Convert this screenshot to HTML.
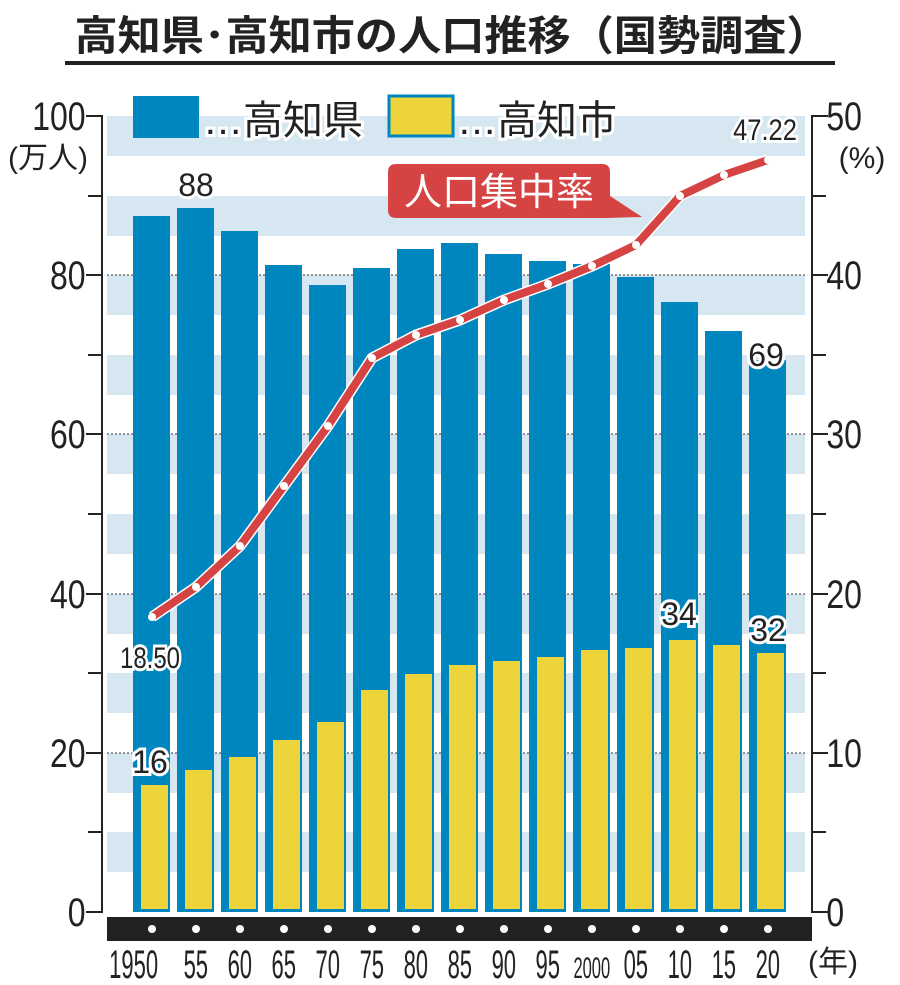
<!DOCTYPE html>
<html><head><meta charset="utf-8"><style>
html,body{margin:0;padding:0;background:#fff}
svg{display:block}
text{font-family:"Liberation Sans","Noto Sans CJK JP",sans-serif}
</style></head><body>
<svg width="900" height="985" viewBox="0 0 900 985" xmlns="http://www.w3.org/2000/svg">
<rect width="900" height="985" fill="#fff"/>
<text x="452" y="50" text-anchor="middle" font-size="41" font-weight="bold" fill="#222" textLength="755" lengthAdjust="spacingAndGlyphs">高知県･高知市の人口推移（国勢調査）</text>
<rect x="65" y="61" width="770" height="4" fill="#222"/>
<g fill="#d6e7f2">
<rect x="107" y="116" width="698" height="40"/>
<rect x="107" y="196" width="698" height="40"/>
<rect x="107" y="275" width="698" height="40"/>
<rect x="107" y="355" width="698" height="40"/>
<rect x="107" y="434" width="698" height="40"/>
<rect x="107" y="514" width="698" height="40"/>
<rect x="107" y="594" width="698" height="40"/>
<rect x="107" y="673" width="698" height="40"/>
<rect x="107" y="753" width="698" height="40"/>
<rect x="107" y="832" width="698" height="40"/>
</g>
<g stroke="#333" stroke-width="1" stroke-dasharray="2,2">
<line x1="107" y1="275" x2="805" y2="275"/>
<line x1="107" y1="434" x2="805" y2="434"/>
<line x1="107" y1="594" x2="805" y2="594"/>
<line x1="107" y1="753" x2="805" y2="753"/>
</g>
<g stroke="#222" stroke-width="2" fill="none">
<polyline points="86,116 102,116 102,912 86,912"/>
<line x1="88" y1="196" x2="102" y2="196"/><line x1="86" y1="275" x2="102" y2="275"/>
<line x1="88" y1="355" x2="102" y2="355"/><line x1="86" y1="434" x2="102" y2="434"/>
<line x1="88" y1="514" x2="102" y2="514"/><line x1="86" y1="594" x2="102" y2="594"/>
<line x1="88" y1="673" x2="102" y2="673"/><line x1="86" y1="753" x2="102" y2="753"/>
<line x1="88" y1="832" x2="102" y2="832"/>
<polyline points="828,116 812,116 812,912 828,912"/>
<line x1="812" y1="196" x2="826" y2="196"/><line x1="812" y1="275" x2="828" y2="275"/>
<line x1="812" y1="355" x2="826" y2="355"/><line x1="812" y1="434" x2="828" y2="434"/>
<line x1="812" y1="514" x2="826" y2="514"/><line x1="812" y1="594" x2="828" y2="594"/>
<line x1="812" y1="673" x2="826" y2="673"/><line x1="812" y1="753" x2="828" y2="753"/>
<line x1="812" y1="832" x2="826" y2="832"/>
</g>
<g font-size="40" fill="#222" text-anchor="end" transform="scale(0.8,1)">
<text x="107" y="130">100</text><text x="107" y="289">80</text><text x="107" y="448">60</text>
<text x="107" y="608">40</text><text x="107" y="767">20</text><text x="107" y="926">0</text>
</g>
<text x="48" y="168" font-size="30" fill="#222" text-anchor="middle">(万人)</text>
<g font-size="40" fill="#222" transform="scale(0.8,1)">
<text x="1033" y="130">50</text><text x="1033" y="289">40</text><text x="1033" y="448">30</text>
<text x="1033" y="608">20</text><text x="1033" y="767">10</text><text x="1033" y="926">0</text>
</g>
<text x="862" y="168" font-size="30" fill="#222" text-anchor="middle">(%)</text>
<g fill="#0086be">
<rect x="133" y="216" width="37" height="696"/>
<rect x="177" y="208" width="37" height="704"/>
<rect x="221" y="231" width="37" height="681"/>
<rect x="265" y="265" width="37" height="647"/>
<rect x="309" y="285" width="37" height="627"/>
<rect x="353" y="268" width="37" height="644"/>
<rect x="397" y="249" width="37" height="663"/>
<rect x="441" y="243" width="37" height="669"/>
<rect x="485" y="254" width="37" height="658"/>
<rect x="529" y="261" width="37" height="651"/>
<rect x="573" y="264" width="37" height="648"/>
<rect x="617" y="277" width="37" height="635"/>
<rect x="661" y="302" width="37" height="610"/>
<rect x="705" y="331" width="37" height="581"/>
<rect x="749" y="360" width="37" height="552"/>
</g>
<g fill="#ecd43a">
<rect x="141" y="785" width="27" height="124"/>
<rect x="185" y="770" width="27" height="139"/>
<rect x="229" y="757" width="27" height="152"/>
<rect x="273" y="740" width="27" height="169"/>
<rect x="317" y="722" width="27" height="187"/>
<rect x="361" y="690" width="27" height="219"/>
<rect x="405" y="674" width="27" height="235"/>
<rect x="449" y="665" width="27" height="244"/>
<rect x="493" y="661" width="27" height="248"/>
<rect x="537" y="657" width="27" height="252"/>
<rect x="581" y="650" width="27" height="259"/>
<rect x="625" y="648" width="27" height="261"/>
<rect x="669" y="640" width="27" height="269"/>
<rect x="713" y="645" width="27" height="264"/>
<rect x="757" y="653" width="27" height="256"/>
</g>
<rect x="107" y="917" width="705" height="24" fill="#222"/>
<g fill="#fff">
<circle cx="152" cy="929" r="4"/><circle cx="196" cy="929" r="4"/><circle cx="240" cy="929" r="4"/>
<circle cx="284" cy="929" r="4"/><circle cx="328" cy="929" r="4"/><circle cx="372" cy="929" r="4"/>
<circle cx="416" cy="929" r="4"/><circle cx="460" cy="929" r="4"/><circle cx="504" cy="929" r="4"/>
<circle cx="548" cy="929" r="4"/><circle cx="592" cy="929" r="4"/><circle cx="636" cy="929" r="4"/>
<circle cx="680" cy="929" r="4"/><circle cx="724" cy="929" r="4"/><circle cx="768" cy="929" r="4"/>
</g>
<g font-size="40" fill="#222" text-anchor="middle" transform="scale(0.55,1)">
<text x="243" y="978">1950</text><text x="356" y="978">55</text><text x="436" y="978">60</text>
<text x="516" y="978">65</text><text x="596" y="978">70</text><text x="676" y="978">75</text>
<text x="756" y="978">80</text><text x="836" y="978">85</text><text x="916" y="978">90</text>
<text x="996" y="978">95</text><text x="1076" y="978" font-size="30">2000</text><text x="1156" y="978">05</text>
<text x="1236" y="978">10</text><text x="1316" y="978">15</text><text x="1396" y="978">20</text>
</g>
<text x="808" y="972" font-size="30" fill="#222">(年)</text>
<rect x="133" y="96" width="66" height="42" fill="#0086be"/>
<text x="203" y="134" font-size="40" fill="#222" stroke="#fff" stroke-width="6" paint-order="stroke">…高知県</text>
<rect x="389" y="96" width="64" height="40" fill="#ecd43a" stroke="#0086be" stroke-width="3"/>
<text x="457" y="134" font-size="40" fill="#222" stroke="#fff" stroke-width="6" paint-order="stroke">…高知市</text>
<path d="M396,164 H602 Q610,164 610,172 V196 L642,217 L606,218 H396 Q388,218 388,210 V172 Q388,164 396,164Z" fill="#d54343"/>
<text x="499" y="205" font-size="38" fill="#fff" text-anchor="middle">人口集中率</text>
<polyline points="152,617 196,587 240,546 284,486 328,426 372,358 416,335 460,320 504,300 548,284 592,266 636,245 680,196 724,175 768,160" fill="none" stroke="#fff" stroke-width="11" stroke-linejoin="round"/>
<polyline points="152,617 196,587 240,546 284,486 328,426 372,358 416,335 460,320 504,300 548,284 592,266 636,245 680,196 724,175 768,160" fill="none" stroke="#d54343" stroke-width="8" stroke-linejoin="round"/>
<g fill="#fff">
<circle cx="152" cy="617" r="4"/><circle cx="196" cy="587" r="4"/><circle cx="240" cy="546" r="4"/>
<circle cx="284" cy="486" r="4"/><circle cx="328" cy="426" r="4"/><circle cx="372" cy="358" r="4"/>
<circle cx="416" cy="335" r="4"/><circle cx="460" cy="320" r="4"/><circle cx="504" cy="300" r="4"/>
<circle cx="548" cy="284" r="4"/><circle cx="592" cy="266" r="4"/><circle cx="636" cy="245" r="4"/>
<circle cx="680" cy="196" r="4"/><circle cx="724" cy="175" r="4"/><circle cx="768" cy="160" r="4"/>
</g>
<g font-size="32" fill="#222" text-anchor="middle" stroke="#fff" stroke-width="6" paint-order="stroke">
<text x="196" y="196">88</text>
<text x="766" y="366">69</text>
<text x="150" y="773">16</text>
<text x="679" y="625">34</text>
<text x="768" y="641">32</text>
<text x="150" y="668" font-size="30" transform="translate(150,0) scale(0.8,1) translate(-150,0)">18.50</text>
<text x="765" y="140" font-size="30" transform="translate(765,0) scale(0.85,1) translate(-765,0)">47.22</text>
</g>
</svg>
</body></html>
